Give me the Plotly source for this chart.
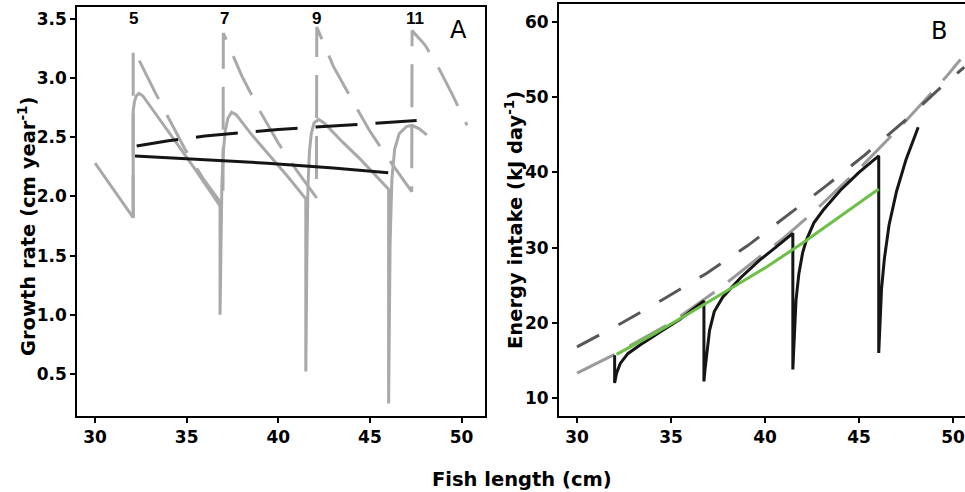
import plotly.graph_objects as go

# ---------------- Panel A: growth rate ----------------
a_solid_len = [30.0, 32.08, 32.08, 32.15, 32.25, 32.4, 32.6, 33.5, 34.5, 35.5, 36.82,
               36.82, 36.86, 36.92, 37.0, 37.1, 37.25, 37.45, 37.7, 38.5, 39.5, 40.5, 41.5,
               41.5, 41.56, 41.62, 41.7, 41.8, 41.95, 42.2, 42.5, 43.5, 44.5, 45.5, 46.02,
               46.02, 46.1, 46.2, 46.35, 46.6, 47.0, 47.3, 47.7, 48.1]
a_solid_rate = [2.28, 1.82, 2.72, 2.80, 2.85, 2.87, 2.85, 2.66, 2.44, 2.22, 1.92,
                1.00, 1.60, 2.10, 2.38, 2.55, 2.66, 2.71, 2.69, 2.53, 2.35, 2.17, 1.98,
                0.52, 1.50, 2.10, 2.38, 2.53, 2.62, 2.65, 2.62, 2.46, 2.31, 2.15, 2.06,
                0.25, 1.60, 2.15, 2.40, 2.53, 2.59, 2.60, 2.57, 2.52]

a_dash_len = [32.08, 32.08, 33.27, 34.9, 35.9, 36.98, 37.0, 38.0, 39.0, 40.0, 41.0, 42.08,
              42.1, 43.0, 44.0, 45.0, 46.0, 46.8, 47.28, 47.3, 48.0, 48.7, 49.5, 50.3]
a_dash_rate = [1.82, 3.25, 2.88, 2.40, 2.15, 1.92, 3.38, 3.02, 2.72, 2.45, 2.22, 1.99,
               3.43, 3.10, 2.82, 2.55, 2.32, 2.15, 2.04, 3.40, 3.28, 3.10, 2.86, 2.60]

a_black_solid_len = [32.18, 36.0, 39.4, 43.0, 46.0]
a_black_solid_rate = [2.34, 2.31, 2.28, 2.24, 2.20]

a_black_dash_len = [32.27, 34.0, 36.0, 38.0, 40.0, 42.0, 44.0, 46.0, 47.55]
a_black_dash_rate = [2.425, 2.47, 2.51, 2.54, 2.565, 2.585, 2.605, 2.625, 2.64]

age_labels = ["5", "7", "9", "11"]
age_label_len = [32.07, 37.04, 42.11, 47.46]

# ---------------- Panel B: energy intake ----------------
b_light_len = [30.0, 32.0, 33.0, 35.0, 37.6, 39.7, 41.0, 42.7, 45.1, 47.4, 49.6, 50.4]
b_light_val = [13.3, 15.8, 17.2, 20.0, 24.6, 28.7, 31.3, 35.0, 40.7, 46.6, 52.6, 55.0]

b_dark_len = [30.0, 32.4, 34.7, 36.9, 39.1, 41.2, 43.3, 45.3, 47.5, 49.4, 50.6]
b_dark_val = [16.8, 20.0, 23.3, 26.6, 30.3, 34.3, 38.3, 42.3, 47.0, 51.4, 54.0]

b_black_len = [32.0, 32.0, 32.1, 32.3, 32.7, 33.5, 34.5, 35.5, 36.75,
               36.75, 36.8, 36.9, 37.05, 37.3, 37.75, 38.7, 39.7, 40.6, 41.48,
               41.48, 41.55, 41.65, 41.8, 42.0, 42.2, 42.6, 43.1, 44.0, 45.0, 46.05,
               46.05, 46.12, 46.2, 46.35, 46.6, 47.0, 47.5, 48.15]
b_black_val = [15.7, 12.0, 13.3, 14.6, 15.9, 17.3, 18.9, 20.5, 22.9,
               12.2, 13.6, 15.5, 19.0, 21.5, 23.4, 26.0, 28.3, 30.1, 31.9,
               13.8, 18.5, 23.0, 26.5, 29.3, 31.0, 33.3, 35.0, 37.6, 40.0, 42.2,
               16.0, 20.5, 24.5, 28.5, 33.0, 37.5, 41.7, 46.0]

b_green_len = [32.1, 34.0, 36.0, 38.0, 40.0, 42.0, 44.0, 46.05]
b_green_val = [15.8, 18.4, 21.3, 24.3, 27.3, 30.6, 34.1, 37.8]

x_ticks = [30, 35, 40, 45, 50]
a_y_ticks = [0.5, 1.0, 1.5, 2.0, 2.5, 3.0, 3.5]
b_y_ticks = [10, 20, 30, 40, 50, 60]

W, H = 965, 492
GRAY_A = "#a9a9a9"
BLACK = "#151515"

fig = go.Figure()

def add(x, y, xa, ya, color, width, dash="solid"):
    fig.add_trace(go.Scatter(x=x, y=y, mode="lines", xaxis=xa, yaxis=ya,
                             line=dict(color=color, width=width, dash=dash),
                             hoverinfo="skip", showlegend=False))

# Panel A traces
add(a_dash_len, a_dash_rate, "x", "y", GRAY_A, 3, "43px,18px")
add(a_solid_len, a_solid_rate, "x", "y", GRAY_A, 3)
add(a_black_solid_len, a_black_solid_rate, "x", "y", BLACK, 3)
add(a_black_dash_len, a_black_dash_rate, "x", "y", BLACK, 3, "42px,18px")

# Panel B traces
add(b_light_len, b_light_val, "x2", "y2", "#9a9a9a", 3, "42px,17px")
add(b_dark_len, b_dark_val, "x2", "y2", "#575757", 3, "25px,22px")
add(b_black_len, b_black_val, "x2", "y2", BLACK, 3)
add(b_green_len, b_green_val, "x2", "y2", "#6cbf47", 3)

tickfont = dict(family="DejaVu Sans", size=17, color="black", weight="bold")
axis_common = dict(showgrid=False, zeroline=False, showline=True, linecolor="black",
                   linewidth=2, ticks="outside", ticklen=5, tickwidth=2,
                   tickcolor="black", tickfont=tickfont, automargin=False)

fig.update_layout(
    width=W, height=H,
    margin=dict(l=0, r=0, t=0, b=0),
    paper_bgcolor="white", plot_bgcolor="white",
    xaxis=dict(domain=[77.3 / W, 485 / W], range=[29.03, 51.28], tickvals=x_ticks,
               mirror=True, anchor="y", **axis_common),
    yaxis=dict(domain=[1 - 416 / H, 1 - 7.3 / H], range=[0.145, 3.597],
               tickvals=a_y_ticks, tickformat=".1f", mirror=True, anchor="x",
               **axis_common),
    xaxis2=dict(domain=[559 / W, 1.0], range=[29.04, 50.64], tickvals=x_ticks,
                mirror=True, anchor="y2", **axis_common),
    yaxis2=dict(domain=[1 - 416 / H, 1 - 4 / H], range=[7.61, 62.39],
                tickvals=b_y_ticks, anchor="x2", **axis_common),
)

title_font = dict(family="DejaVu Sans", size=19.5, color="black", weight="bold")
annotations = [
    dict(text="Growth rate (cm year<sup>-1</sup>)", xref="paper", yref="paper",
         x=27 / W, y=1 - 226 / H, textangle=-90, showarrow=False, font=title_font,
         xanchor="center", yanchor="middle"),
    dict(text="Energy intake (kJ day<sup>-1</sup>)", xref="paper", yref="paper",
         x=514 / W, y=1 - 220 / H, textangle=-90, showarrow=False, font=title_font,
         xanchor="center", yanchor="middle"),
    dict(text="Fish length (cm)", xref="paper", yref="paper",
         x=522 / W, y=1 - 479 / H, showarrow=False, font=title_font,
         xanchor="center", yanchor="middle"),
    dict(text="A", xref="paper", yref="paper", x=458 / W, y=1 - 30 / H,
         showarrow=False, font=dict(family="DejaVu Sans", size=24, color="black"),
         xanchor="center", yanchor="middle"),
    dict(text="B", xref="paper", yref="paper", x=939 / W, y=1 - 31 / H,
         showarrow=False, font=dict(family="DejaVu Sans", size=24, color="black"),
         xanchor="center", yanchor="middle"),
]
for lab, xl in zip(age_labels, age_label_len):
    annotations.append(dict(text=lab, xref="x", yref="paper", x=xl, y=1 - 19 / H,
                            showarrow=False,
                            font=dict(family="Liberation Sans", size=17, color="black",
                                      weight="bold"),
                            xanchor="center", yanchor="middle"))
fig.update_layout(annotations=annotations)

fig.write_html("out.html",
               config={"displayModeBar": False},
               post_script="document.body.style.margin='0px';"
                           "document.body.style.overflow='hidden';")
